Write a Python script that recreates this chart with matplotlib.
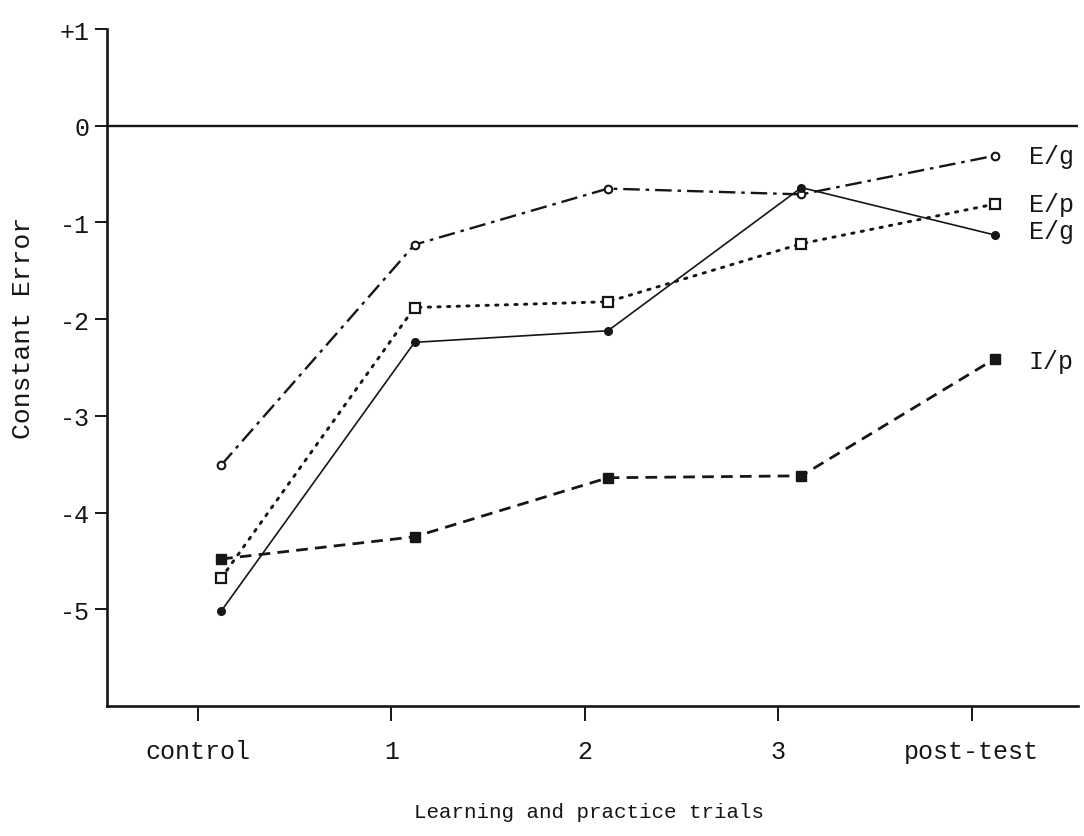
import matplotlib
matplotlib.use("Agg")
import matplotlib.pyplot as plt

# ---- data ----
categories = ["control", "1", "2", "3", "post-test"]
y_ticks = [1, 0, -1, -2, -3, -4, -5]
y_tick_labels = ["+1", "0", "-1", "-2", "-3", "-4", "-5"]

eg_open = [-3.51, -1.23, -0.65, -0.71, -0.31]     # E/g, dash-dot, open circles
eg_solid = [-5.02, -2.24, -2.12, -0.64, -1.13]    # E/g, solid, filled circles
ep_dotted = [-4.68, -1.88, -1.82, -1.22, -0.81]   # E/p, dotted, open squares
ip_dashed = [-4.48, -4.25, -3.64, -3.62, -2.41]   # I/p, dashed, filled squares
series_labels = ["E/g", "E/g", "E/p", "I/p"]

# ---- style ----
FONT = ["Liberation Mono", "DejaVu Sans Mono"]
INK = "#161616"
W, H = 1084, 837
point_offset = 0.12

fig = plt.figure(figsize=(W / 100, H / 100), dpi=100)
fig.patch.set_facecolor("white")
ax = fig.add_axes([107 / W, 1 - 707 / H, (1078 - 107) / W, (707 - 30) / H])

xs = [i + point_offset for i in range(len(categories))]

ax.plot(xs, eg_open, color=INK, lw=1.7, dashes=(7, 2.5, 1.5, 2.5),
        marker="o", ms=5.5, mfc="white", mec=INK, mew=1.5, zorder=3)
ax.plot(xs, eg_solid, color=INK, lw=1.2, linestyle="-",
        marker="o", ms=5.5, mfc=INK, mec=INK, zorder=3)
ax.plot(xs, ep_dotted, color=INK, lw=2.1, dashes=(0.8, 2.5), dash_capstyle="round",
        marker="s", ms=7, mfc="white", mec=INK, mew=1.6, zorder=3)
ax.plot(xs, ip_dashed, color=INK, lw=2.0, dashes=(4.2, 2.6),
        marker="s", ms=7.5, mfc=INK, mec=INK, zorder=3)

# series labels at the right
for vals, lab, dy in [(eg_open, "E/g", 0), (ep_dotted, "E/p", 0),
                      (eg_solid, "E/g", 4), (ip_dashed, "I/p", -2)]:
    ax.annotate(lab, xy=(xs[-1], vals[-1]), xytext=(34, dy),
                textcoords="offset pixels", ha="left", va="center",
                fontsize=18, family=FONT, color=INK, annotation_clip=False)

# zero line
ax.axhline(0, color=INK, lw=1.7, zorder=2)

ax.set_xlim(-0.47, 4.55)
ax.set_ylim(-6, 1)
ax.set_xticks(range(len(categories)))
ax.set_xticklabels(categories, family=FONT, fontsize=18, color=INK)
ax.set_yticks(y_ticks)
ax.set_yticklabels(y_tick_labels, family=FONT, fontsize=18, color=INK)

for s in ["top", "right"]:
    ax.spines[s].set_visible(False)
for s in ["left", "bottom"]:
    ax.spines[s].set_linewidth(1.9)
    ax.spines[s].set_color(INK)

ax.tick_params(axis="x", direction="out", length=11, width=1.4, pad=13, colors=INK)
ax.tick_params(axis="y", direction="out", length=8.5, width=1.4, pad=4, colors=INK)

fig.text(23 / W, 1 - 328 / H, "Constant Error", rotation=90, ha="center", va="center",
         fontsize=19, family=FONT, color=INK)
fig.text((198 + 969) / 2 / W + 0.005, 1 - 813 / H, "Learning and practice trials",
         ha="center", va="center", fontsize=15, family=FONT, color=INK)

fig.savefig("out.png", dpi=100, facecolor="white")
